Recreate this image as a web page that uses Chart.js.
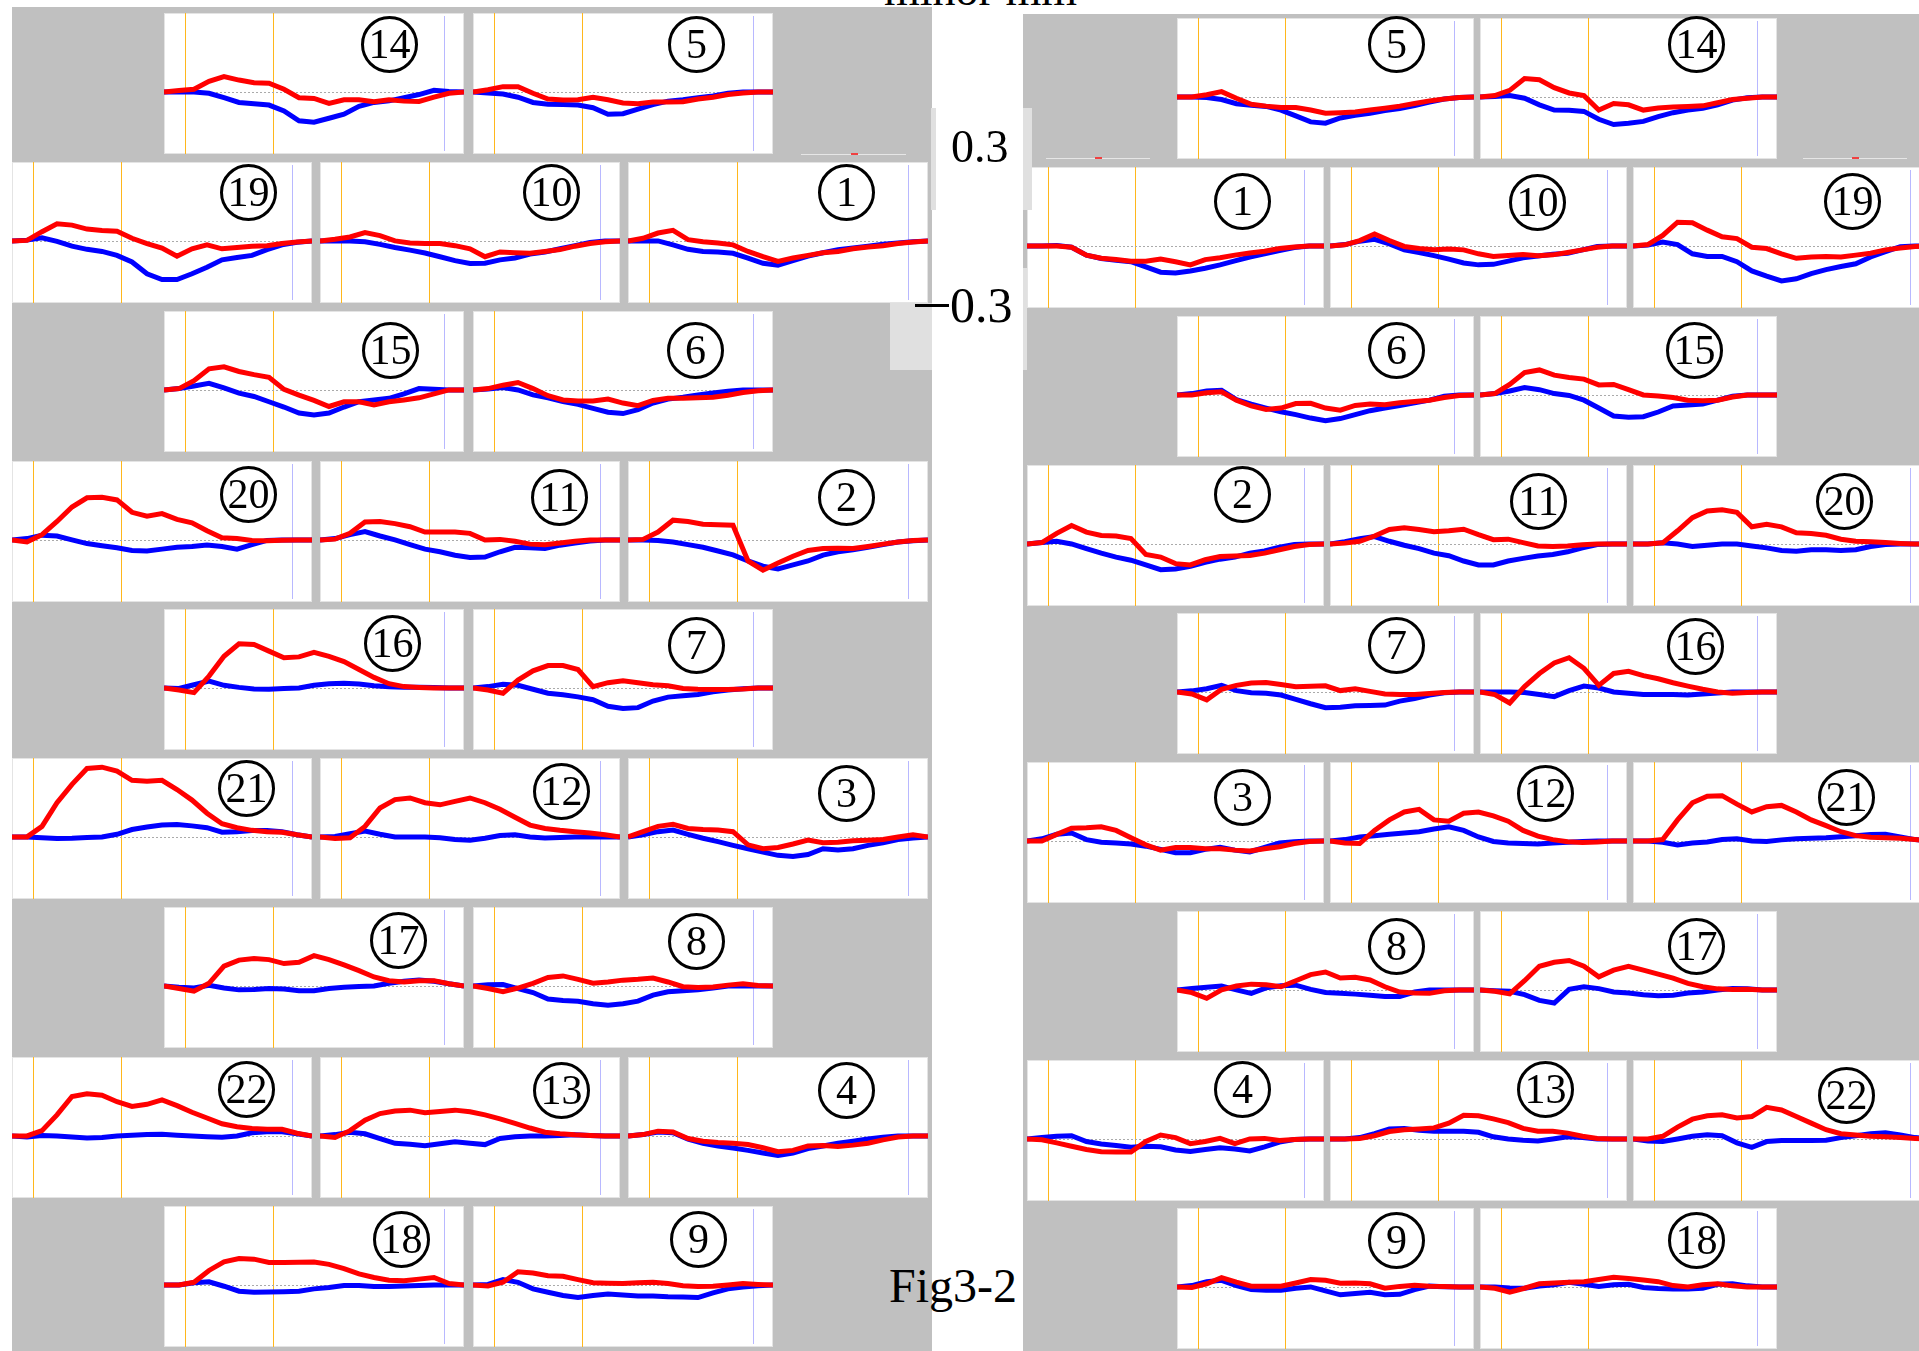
<!DOCTYPE html>
<html>
<head>
<meta charset="utf-8">
<title>Fig3-2</title>
<script src="https://cdn.jsdelivr.net/npm/chart.js@4.4.0/dist/chart.umd.min.js"></script>
<style>
  html, body { margin: 0; padding: 0; background: #fff; }
  #page { position: relative; width: 1919px; height: 1351px; overflow: hidden; font-family: "Liberation Serif", "Times New Roman", serif; }
  .block { position: absolute; background: #c0c0c0; }
  .panel { position: absolute; background: #fff; box-shadow: inset 0 0 0 1px #e4e4e4; }
  .panel canvas { position: absolute; left: 0; top: 0; }
  .num { position: absolute; width: 51px; height: 51px; border: 3px solid #000; border-radius: 50%; font-size: 42px; line-height: 51px; text-align: center; color: #000; }
  .txt { position: absolute; color: #000; white-space: nowrap; line-height: 1; }
  .patch { position: absolute; background: #e0e0e0; }
  .bar { position: absolute; background: #000; }
</style>
</head>
<body>
<div id="page"></div>
<script>
// time grid (% of trial) shared by every trace
const xGrid = [0, 5, 10, 15, 20, 25, 30, 35, 40, 45, 50, 55, 60, 65, 70, 75, 80, 85, 90, 95, 100];
const onsetX = [7.1, 36.4];   // orange markers
const endX = 93.2;            // faint blue marker
const yMin = -0.236, yMax = 0.3;  // mm

// ---- left block (red / blue traces, mm) ----
const l14Red = [0,0.005,0.01,0.04,0.058,0.045,0.035,0.033,0.01,-0.022,-0.025,-0.044,-0.03,-0.03,-0.037,-0.03,-0.035,-0.036,-0.02,-0.005,0];
const l14Blue = [0,0,0,-0.005,-0.022,-0.04,-0.045,-0.05,-0.072,-0.11,-0.115,-0.1,-0.085,-0.055,-0.04,-0.034,-0.022,-0.01,0.006,0.002,0];
const l5Red = [0,0.008,0.02,0.02,-0.005,-0.027,-0.031,-0.03,-0.02,-0.03,-0.042,-0.045,-0.038,-0.038,-0.037,-0.027,-0.02,-0.01,-0.004,0,0];
const l5Blue = [0,-0.004,-0.008,-0.02,-0.04,-0.047,-0.048,-0.05,-0.06,-0.085,-0.083,-0.065,-0.048,-0.035,-0.03,-0.022,-0.015,-0.005,0,0,0];
const l19Red = [0,0.002,0.035,0.065,0.06,0.045,0.04,0.037,0.01,-0.01,-0.027,-0.058,-0.03,-0.015,-0.03,-0.025,-0.02,-0.018,-0.01,-0.004,0];
const l19Blue = [0,0.003,0.012,-0.002,-0.02,-0.032,-0.04,-0.055,-0.08,-0.125,-0.147,-0.147,-0.125,-0.1,-0.072,-0.063,-0.055,-0.033,-0.015,-0.005,0];
const l10Red = [0,0.006,0.015,0.032,0.02,0,-0.008,-0.01,-0.01,-0.018,-0.03,-0.06,-0.042,-0.045,-0.047,-0.04,-0.033,-0.02,-0.01,-0.003,0];
const l10Blue = [0,0,0,-0.003,-0.013,-0.025,-0.035,-0.046,-0.06,-0.075,-0.086,-0.085,-0.072,-0.065,-0.05,-0.042,-0.03,-0.018,-0.006,0,0];
const l1Red = [0,0.01,0.03,0.04,0.005,-0.003,-0.008,-0.015,-0.04,-0.06,-0.078,-0.065,-0.055,-0.045,-0.04,-0.03,-0.023,-0.018,-0.01,-0.004,0];
const l1Blue = [0,0,0,-0.015,-0.032,-0.04,-0.042,-0.047,-0.065,-0.085,-0.092,-0.075,-0.058,-0.045,-0.033,-0.027,-0.02,-0.013,-0.008,-0.003,0];
const l15Red = [0,0.005,0.035,0.08,0.088,0.07,0.058,0.048,0.002,-0.02,-0.04,-0.063,-0.045,-0.045,-0.057,-0.045,-0.038,-0.03,-0.015,0,0];
const l15Blue = [0,0.005,0.015,0.025,0.008,-0.012,-0.025,-0.045,-0.065,-0.088,-0.095,-0.088,-0.065,-0.045,-0.038,-0.032,-0.015,0.005,0.003,0,0];
const l6Red = [0,0.005,0.018,0.028,0.005,-0.022,-0.038,-0.042,-0.042,-0.035,-0.05,-0.06,-0.04,-0.032,-0.032,-0.03,-0.028,-0.02,-0.01,-0.003,0];
const l6Blue = [0,0.003,0.009,0,-0.019,-0.03,-0.044,-0.055,-0.07,-0.085,-0.09,-0.075,-0.05,-0.035,-0.028,-0.019,-0.012,-0.005,0,0,0];
const l20Red = [0,-0.008,0.02,0.07,0.125,0.16,0.162,0.152,0.105,0.09,0.1,0.078,0.065,0.035,0.008,0.005,-0.002,-0.003,-0.001,0,0];
const l20Blue = [0,0.005,0.018,0.015,0,-0.014,-0.022,-0.03,-0.04,-0.042,-0.035,-0.028,-0.025,-0.019,-0.025,-0.035,-0.018,-0.002,0,0,0];
const l11Red = [0,0.003,0.025,0.068,0.07,0.062,0.05,0.03,0.03,0.03,0.025,0,0.002,-0.005,-0.016,-0.018,-0.012,-0.005,0,0,0];
const l11Blue = [0,0.005,0.02,0.032,0.015,0,-0.018,-0.035,-0.045,-0.058,-0.067,-0.065,-0.045,-0.028,-0.03,-0.033,-0.02,-0.012,-0.004,0,0];
const l2Red = [0,0.002,0.03,0.075,0.07,0.06,0.058,0.056,-0.08,-0.115,-0.088,-0.062,-0.04,-0.033,-0.032,-0.033,-0.025,-0.016,-0.008,-0.002,0];
const l2Blue = [0,0,-0.002,-0.008,-0.018,-0.028,-0.042,-0.057,-0.08,-0.1,-0.11,-0.095,-0.08,-0.058,-0.045,-0.037,-0.028,-0.018,-0.008,-0.003,0];
const l16Red = [0,-0.008,-0.018,0.045,0.12,0.168,0.165,0.14,0.115,0.118,0.135,0.12,0.1,0.07,0.04,0.016,0.005,0.002,0,0,0];
const l16Blue = [0,-0.002,0.012,0.026,0.01,0.002,-0.004,-0.005,-0.002,0,0.01,0.016,0.018,0.015,0.008,0.004,0.003,0.003,0.002,0,0];
const l7Red = [0,-0.008,-0.02,0.03,0.065,0.085,0.085,0.07,0.005,0.02,0.027,0.02,0.012,0.008,-0.002,-0.005,-0.006,-0.006,-0.004,0,0];
const l7Blue = [0,0.005,0.014,0.01,-0.005,-0.02,-0.026,-0.034,-0.045,-0.07,-0.078,-0.075,-0.05,-0.035,-0.03,-0.025,-0.015,-0.008,-0.003,0,0];
const l21Red = [0,0,0.04,0.13,0.2,0.26,0.265,0.25,0.215,0.212,0.215,0.18,0.14,0.09,0.05,0.035,0.025,0.02,0.018,0.008,0];
const l21Blue = [0,0,-0.003,-0.006,-0.005,-0.002,0,0.01,0.028,0.038,0.045,0.047,0.042,0.035,0.018,0.02,0.024,0.024,0.02,0.008,0];
const l12Red = [0,-0.006,-0.003,0.04,0.11,0.142,0.148,0.13,0.122,0.135,0.148,0.13,0.105,0.075,0.045,0.032,0.025,0.02,0.015,0.008,0];
const l12Blue = [0,0.002,0.012,0.022,0.01,0,0,0,-0.003,-0.01,-0.013,-0.005,0.005,0.008,0,-0.004,-0.002,0,0,0,0];
const l3Red = [0,0.02,0.04,0.048,0.032,0.028,0.026,0.02,-0.03,-0.045,-0.04,-0.027,-0.012,-0.022,-0.02,-0.015,-0.013,-0.01,0,0.008,0];
const l3Blue = [0,0.008,0.02,0.026,0.01,-0.005,-0.018,-0.032,-0.045,-0.058,-0.07,-0.074,-0.067,-0.045,-0.05,-0.045,-0.032,-0.022,-0.01,-0.004,0];
const l17Red = [0,-0.01,-0.02,0.01,0.075,0.098,0.104,0.1,0.085,0.09,0.115,0.1,0.08,0.058,0.034,0.02,0.015,0.02,0.02,0.008,0];
const l17Blue = [0,-0.005,-0.008,0.002,-0.008,-0.015,-0.014,-0.01,-0.012,-0.018,-0.018,-0.01,-0.005,-0.002,0,0.01,0.018,0.022,0.018,0.008,0];
const l8Red = [0,-0.01,-0.022,-0.008,0.01,0.032,0.038,0.025,0.01,0.015,0.022,0.025,0.03,0.015,-0.003,-0.006,-0.004,0.003,0.008,0.002,0];
const l8Blue = [0,0.004,0.005,-0.01,-0.025,-0.05,-0.055,-0.058,-0.068,-0.073,-0.068,-0.058,-0.035,-0.022,-0.018,-0.015,-0.008,0,0,0,0];
const l22Red = [0,0,0.02,0.08,0.15,0.16,0.155,0.13,0.112,0.12,0.137,0.115,0.09,0.068,0.046,0.035,0.028,0.025,0.025,0.01,0];
const l22Blue = [0,-0.004,0.002,0,-0.004,-0.008,-0.006,0,0.003,0.005,0.006,0.003,0,-0.003,-0.005,0,0.012,0.016,0.016,0.008,0];
const l13Red = [0,-0.006,0.02,0.06,0.085,0.095,0.098,0.088,0.093,0.098,0.092,0.08,0.065,0.048,0.03,0.014,0.008,0.004,0.002,0,0];
const l13Blue = [0,0.005,0.014,0.008,-0.01,-0.028,-0.032,-0.037,-0.03,-0.022,-0.028,-0.033,-0.01,-0.003,0,0,0.002,0.004,0.002,0,0];
const l4Red = [0,0.005,0.018,0.015,-0.01,-0.02,-0.025,-0.028,-0.033,-0.045,-0.06,-0.055,-0.038,-0.036,-0.04,-0.035,-0.028,-0.015,-0.004,0,0];
const l4Blue = [0,0.005,0.015,0.012,-0.012,-0.028,-0.038,-0.046,-0.055,-0.065,-0.074,-0.065,-0.048,-0.038,-0.028,-0.02,-0.012,-0.005,0,0,0];
const l18Red = [0,0,0.01,0.055,0.088,0.1,0.098,0.085,0.085,0.086,0.087,0.078,0.062,0.042,0.028,0.018,0.016,0.022,0.028,0.005,0];
const l18Blue = [0,0,0.008,0.012,-0.005,-0.024,-0.028,-0.027,-0.026,-0.024,-0.015,-0.01,-0.002,-0.002,-0.006,-0.006,-0.004,-0.002,0,0,0];
const l9Red = [0,-0.004,0.01,0.05,0.045,0.035,0.033,0.02,0.008,0.006,0.005,0.008,0.01,0.005,-0.003,-0.006,-0.005,0,0.005,0.002,0];
const l9Blue = [0,0.002,0.02,0.01,-0.015,-0.028,-0.04,-0.048,-0.04,-0.035,-0.038,-0.042,-0.042,-0.045,-0.046,-0.048,-0.03,-0.015,-0.008,-0.003,0];

// ---- right block ----
const r5Red = [0,0,0.008,0.02,-0.005,-0.028,-0.035,-0.04,-0.04,-0.05,-0.062,-0.06,-0.057,-0.05,-0.043,-0.035,-0.025,-0.015,-0.008,-0.002,0];
const r5Blue = [0,0,-0.002,-0.01,-0.026,-0.032,-0.036,-0.05,-0.072,-0.095,-0.1,-0.08,-0.07,-0.062,-0.052,-0.044,-0.033,-0.02,-0.008,-0.002,0];
const r14Red = [0,0.005,0.025,0.07,0.065,0.035,0.015,0.005,-0.05,-0.025,-0.03,-0.05,-0.042,-0.038,-0.036,-0.034,-0.022,-0.01,-0.005,0,0];
const r14Blue = [0,0.002,0.005,-0.005,-0.03,-0.05,-0.051,-0.055,-0.085,-0.105,-0.1,-0.093,-0.075,-0.06,-0.05,-0.043,-0.03,-0.012,-0.003,0,0];
const r1Red = [0,0,0,-0.005,-0.035,-0.047,-0.052,-0.058,-0.058,-0.05,-0.06,-0.072,-0.052,-0.045,-0.035,-0.027,-0.02,-0.01,-0.004,0,0];
const r1Blue = [0,0,0.002,-0.005,-0.035,-0.048,-0.055,-0.06,-0.08,-0.1,-0.103,-0.095,-0.085,-0.072,-0.057,-0.042,-0.03,-0.018,-0.006,0,0];
const r10Red = [0,0.004,0.02,0.045,0.02,-0.002,-0.01,-0.015,-0.012,-0.015,-0.03,-0.04,-0.036,-0.033,-0.037,-0.034,-0.025,-0.015,-0.005,0,0];
const r10Blue = [0,0.005,0.018,0.025,0.008,-0.015,-0.025,-0.037,-0.05,-0.065,-0.072,-0.07,-0.058,-0.045,-0.038,-0.032,-0.028,-0.015,-0.002,0,0];
const r19Red = [0,0.005,0.04,0.09,0.088,0.06,0.035,0.028,-0.005,-0.01,-0.03,-0.047,-0.042,-0.04,-0.042,-0.035,-0.028,-0.015,-0.008,-0.002,0];
const r19Blue = [0,0.003,0.015,0.005,-0.03,-0.04,-0.04,-0.06,-0.095,-0.115,-0.133,-0.125,-0.105,-0.09,-0.078,-0.068,-0.042,-0.022,-0.003,0,0];
const r6Red = [0,0,0.008,0.012,-0.02,-0.042,-0.055,-0.05,-0.033,-0.032,-0.05,-0.058,-0.04,-0.035,-0.037,-0.03,-0.025,-0.02,-0.01,-0.002,0];
const r6Blue = [0,0.005,0.015,0.018,-0.018,-0.035,-0.05,-0.064,-0.075,-0.088,-0.098,-0.09,-0.075,-0.06,-0.05,-0.04,-0.03,-0.02,-0.005,0,0];
const r15Red = [0,0.005,0.04,0.085,0.095,0.075,0.066,0.06,0.038,0.04,0.02,0,-0.004,-0.01,-0.02,-0.022,-0.02,-0.008,0,0,0];
const r15Blue = [0,0.005,0.015,0.028,0.02,0.005,-0.002,-0.02,-0.05,-0.08,-0.085,-0.083,-0.065,-0.042,-0.038,-0.035,-0.02,-0.005,0,0,0];
const r2Red = [0,0.005,0.04,0.07,0.045,0.032,0.03,0.02,-0.04,-0.05,-0.075,-0.08,-0.06,-0.048,-0.046,-0.044,-0.035,-0.022,-0.01,-0.002,0];
const r2Blue = [0,0.005,0.01,0,-0.018,-0.035,-0.05,-0.062,-0.08,-0.098,-0.095,-0.085,-0.07,-0.058,-0.05,-0.035,-0.027,-0.012,-0.002,0,0];
const r11Red = [0,0.003,0.01,0.03,0.055,0.061,0.055,0.046,0.05,0.056,0.035,0.016,0.018,0.005,-0.008,-0.01,-0.008,-0.003,0,0,0];
const r11Blue = [0,0.008,0.02,0.028,0.01,-0.005,-0.018,-0.035,-0.045,-0.065,-0.08,-0.08,-0.065,-0.055,-0.046,-0.04,-0.03,-0.015,-0.002,0,0];
const r20Red = [0,0,0.004,0.05,0.1,0.125,0.13,0.12,0.065,0.075,0.065,0.042,0.04,0.033,0.018,0.01,0.008,0.005,0.002,0,0];
const r20Blue = [0,0,0.004,0,-0.01,-0.005,0,0,-0.008,-0.015,-0.025,-0.028,-0.022,-0.022,-0.025,-0.022,-0.01,-0.002,0,0,0];
const r7Red = [0,-0.008,-0.03,0.01,0.025,0.034,0.036,0.028,0.02,0.022,0.023,0.005,0.012,0.002,-0.008,-0.01,-0.01,-0.006,-0.002,0,0];
const r7Blue = [0,0.004,0.012,0.025,0.005,-0.003,-0.005,-0.012,-0.028,-0.045,-0.06,-0.058,-0.053,-0.052,-0.05,-0.035,-0.025,-0.012,-0.003,0,0];
const r16Red = [0,-0.01,-0.042,0.02,0.07,0.11,0.13,0.09,0.025,0.07,0.078,0.062,0.05,0.035,0.022,0.01,0,-0.005,-0.002,0,0];
const r16Blue = [0,0,0,-0.002,-0.01,-0.018,0.005,0.022,0.015,0,-0.005,-0.01,-0.01,-0.01,-0.012,-0.008,-0.004,0,0,0,0];
const r3Red = [0,0,0.025,0.048,0.05,0.054,0.04,0.012,-0.015,-0.035,-0.025,-0.025,-0.03,-0.03,-0.035,-0.038,-0.03,-0.022,-0.01,-0.002,0];
const r3Blue = [0,0.008,0.025,0.03,0.005,-0.005,-0.008,-0.012,-0.02,-0.032,-0.045,-0.045,-0.032,-0.024,-0.035,-0.042,-0.025,-0.008,-0.003,0,0];
const r12Red = [0,-0.008,-0.01,0.04,0.08,0.11,0.12,0.08,0.075,0.105,0.11,0.095,0.075,0.04,0.018,0.005,-0.003,-0.006,-0.004,0,0];
const r12Blue = [0,0.005,0.015,0.02,0.025,0.03,0.035,0.045,0.054,0.04,0.015,-0.002,-0.008,-0.01,-0.012,-0.008,-0.005,-0.002,0,0,0];
const r21Red = [0,0,0.005,0.08,0.145,0.17,0.172,0.14,0.11,0.13,0.135,0.11,0.08,0.058,0.035,0.02,0.014,0.012,0.01,0.005,0];
const r21Blue = [0,0,-0.005,-0.015,-0.008,-0.004,0.005,0.008,0,-0.002,0.004,0.008,0.01,0.012,0.016,0.02,0.024,0.025,0.015,0.005,0];
const r8Red = [0,-0.01,-0.032,0,0.015,0.022,0.02,0.012,0.035,0.058,0.068,0.045,0.048,0.038,0.012,-0.008,-0.012,-0.013,-0.003,0,0];
const r8Blue = [0,0.005,0.01,0.015,0,-0.013,0.008,0.016,0.018,0.002,-0.01,-0.013,-0.016,-0.02,-0.025,-0.025,-0.008,0,0,0,0];
const r17Red = [0,-0.005,-0.015,0.035,0.09,0.105,0.112,0.09,0.05,0.075,0.09,0.075,0.06,0.045,0.025,0.012,0.004,0.002,0.003,0,0];
const r17Blue = [0,-0.003,-0.005,-0.018,-0.04,-0.05,0.002,0.012,0.005,-0.008,-0.012,-0.018,-0.022,-0.02,-0.012,-0.008,0,0.005,0.004,0,0];
const r4Red = [0,-0.003,-0.015,-0.028,-0.04,-0.049,-0.05,-0.05,-0.01,0.015,0.005,-0.018,-0.01,0.002,-0.018,0,0.002,-0.006,-0.002,0,0];
const r4Blue = [0,0.005,0.01,0.012,-0.01,-0.019,-0.025,-0.032,-0.028,-0.03,-0.042,-0.048,-0.04,-0.034,-0.038,-0.046,-0.03,-0.012,-0.002,0,0];
const r13Red = [0,0,0.002,0.012,0.028,0.035,0.038,0.042,0.06,0.09,0.088,0.076,0.062,0.04,0.029,0.029,0.022,0.01,0.002,0,0];
const r13Blue = [0,0,0.005,0.02,0.038,0.04,0.033,0.029,0.029,0.029,0.025,0.008,0,-0.005,-0.008,0,0.008,0.005,0,0,0];
const r22Red = [0,0,0.01,0.045,0.075,0.088,0.092,0.08,0.085,0.12,0.11,0.085,0.06,0.035,0.02,0.015,0.01,0.008,0.005,0.002,0];
const r22Blue = [0,-0.008,-0.01,0,0.01,0.016,0.012,-0.015,-0.032,-0.01,-0.006,-0.006,-0.006,-0.005,0.005,0.012,0.02,0.023,0.015,0.005,0];
const r9Red = [0,-0.002,0.012,0.035,0.018,0.003,0.003,0.003,0.015,0.028,0.025,0.014,0.015,0.012,-0.005,0.002,0.006,0.003,0.002,0,0];
const r9Blue = [0,0.005,0.02,0.025,0.005,-0.01,-0.013,-0.013,-0.005,0,-0.015,-0.03,-0.025,-0.02,-0.03,-0.028,-0.01,0.003,0.001,0,0];
const r18Red = [0,-0.005,-0.02,-0.005,0.012,0.015,0.018,0.02,0.028,0.037,0.032,0.026,0.02,0.005,0,0.008,0.012,0.004,0,0,0];
const r18Blue = [0,0,-0.004,-0.005,0.003,0.008,0.018,0.01,0.002,0.008,0.01,-0.002,-0.006,-0.008,-0.008,-0.005,0.01,0.012,0.004,0,0];

// panel numbers, row by row
const leftRows = [[14,5],[19,10,1],[15,6],[20,11,2],[16,7],[21,12,3],[17,8],[22,13,4],[18,9]];
const rightRows = [[5,14],[1,10,19],[6,15],[2,11,20],[7,16],[3,12,21],[8,17],[4,13,22],[9,18]];

const traces = {
    L14: [l14Red, l14Blue], L5: [l5Red, l5Blue], L19: [l19Red, l19Blue], L10: [l10Red, l10Blue], L1: [l1Red, l1Blue],
    L15: [l15Red, l15Blue], L6: [l6Red, l6Blue], L20: [l20Red, l20Blue], L11: [l11Red, l11Blue], L2: [l2Red, l2Blue],
    L16: [l16Red, l16Blue], L7: [l7Red, l7Blue], L21: [l21Red, l21Blue], L12: [l12Red, l12Blue], L3: [l3Red, l3Blue],
    L17: [l17Red, l17Blue], L8: [l8Red, l8Blue], L22: [l22Red, l22Blue], L13: [l13Red, l13Blue], L4: [l4Red, l4Blue],
    L18: [l18Red, l18Blue], L9: [l9Red, l9Blue],
    R5: [r5Red, r5Blue], R14: [r14Red, r14Blue], R1: [r1Red, r1Blue], R10: [r10Red, r10Blue], R19: [r19Red, r19Blue],
    R6: [r6Red, r6Blue], R15: [r15Red, r15Blue], R2: [r2Red, r2Blue], R11: [r11Red, r11Blue], R20: [r20Red, r20Blue],
    R7: [r7Red, r7Blue], R16: [r16Red, r16Blue], R3: [r3Red, r3Blue], R12: [r12Red, r12Blue], R21: [r21Red, r21Blue],
    R8: [r8Red, r8Blue], R17: [r17Red, r17Blue], R4: [r4Red, r4Blue], R13: [r13Red, r13Blue], R22: [r22Red, r22Blue],
    R9: [r9Red, r9Blue], R18: [r18Red, r18Blue]
};

// ---- layout (px) ----
const sides = {
    L: { rows: leftRows, tops: [13,162,311,461,609,758,907,1057,1206], x3: [12,320,628], x2: [164,473], w: 300 },
    R: { rows: rightRows, tops: [18,167,316,465,613,762,911,1060,1208], x3: [1027,1330,1633], x2: [1177,1480], w: 297 }
};
const panelH = 141;
// circled-number centre inside each panel
const labelPos = {
    L14: [225,31], L5: [223,31], L19: [236,30], L10: [231,30], L1: [218,30],
    L15: [226,39], L6: [222,39], L20: [236,33], L11: [239,36], L2: [218,36],
    L16: [228,34], L7: [223,36], L21: [234,30], L12: [241,33], L3: [218,35],
    L17: [234,33], L8: [223,34], L22: [234,32], L13: [241,33], L4: [218,33],
    L18: [237,33], L9: [225,33],
    R5: [219,26], R14: [216,26], R1: [215,34], R10: [207,35], R19: [219,34],
    R6: [219,34], R15: [214,34], R2: [215,29], R11: [208,36], R20: [211,36],
    R7: [219,32], R16: [215,33], R3: [215,35], R12: [215,31], R21: [213,35],
    R8: [219,35], R17: [216,35], R4: [215,29], R13: [215,29], R22: [213,35],
    R9: [219,32], R18: [216,32]
};

const page = document.querySelector('#page');

function addDiv(cls, x, y, w, h, parent) {
    const d = document.createElement('div');
    d.className = cls;
    d.style.left = x + 'px';
    d.style.top = y + 'px';
    if (w != null) d.style.width = w + 'px';
    if (h != null) d.style.height = h + 'px';
    (parent || page).appendChild(d);
    return d;
}

// grey backgrounds
addDiv('block', 12, 7, 920, 1344);
addDiv('block', 1023, 14, 896, 1337);

const guides = {
    id: 'guides',
    beforeDatasetsDraw(chart) {
        const { ctx, chartArea, scales: { x, y } } = chart;
        ctx.save();
        ctx.lineWidth = 1;
        ctx.strokeStyle = '#ffb71c';
        onsetX.forEach(v => {
            const px = Math.round(x.getPixelForValue(v)) + 0.5;
            ctx.beginPath(); ctx.moveTo(px, chartArea.top); ctx.lineTo(px, chartArea.bottom); ctx.stroke();
        });
        ctx.strokeStyle = '#b8b8ff';
        const ex = Math.round(x.getPixelForValue(endX)) + 0.5;
        ctx.beginPath(); ctx.moveTo(ex, chartArea.top + 3); ctx.lineTo(ex, chartArea.bottom - 3); ctx.stroke();
        ctx.strokeStyle = '#aaaaaa';
        ctx.setLineDash([2, 2]);
        const y0 = Math.round(y.getPixelForValue(0)) + 0.5;
        ctx.beginPath(); ctx.moveTo(chartArea.left, y0); ctx.lineTo(chartArea.right, y0); ctx.stroke();
        ctx.restore();
    }
};

function toPoints(arr) {
    return xGrid.map((x, i) => ({ x: x, y: arr[i] }));
}

Object.keys(sides).forEach(side => {
    const s = sides[side];
    s.rows.forEach((row, r) => {
        const xs = row.length == 3 ? s.x3 : s.x2;
        row.forEach((num, c) => {
            const key = side + num;
            const panel = addDiv('panel', xs[c], s.tops[r], s.w, panelH);
            const canvas = document.createElement('canvas');
            canvas.width = s.w;
            canvas.height = panelH;
            panel.appendChild(canvas);
            const [red, blue] = traces[key];
            new Chart(canvas, {
                type: 'line',
                data: {
                    datasets: [
                        { data: toPoints(red), borderColor: '#ff0000', borderWidth: 5, pointRadius: 0, tension: 0, borderJoinStyle: 'miter' },
                        { data: toPoints(blue), borderColor: '#0000ff', borderWidth: 5, pointRadius: 0, tension: 0, borderJoinStyle: 'miter' }
                    ]
                },
                options: {
                    responsive: false,
                    animation: false,
                    events: [],
                    layout: { padding: 0 },
                    scales: {
                        x: { type: 'linear', min: 0, max: 100, display: false },
                        y: { min: yMin, max: yMax, display: false }
                    },
                    plugins: { legend: { display: false }, tooltip: { enabled: false } }
                },
                plugins: [guides]
            });
            const [lx, ly] = labelPos[key];
            const lab = addDiv('num', lx - 28, ly - 28, null, null, panel);
            lab.textContent = num;
        });
    });
});

// light patches around the scale labels
addDiv('patch', 890, 303, 42, 67);
addDiv('patch', 931, 108, 5, 102);
addDiv('patch', 1023, 108, 9, 102);
addDiv('patch', 1023, 268, 4, 102);

// remnants of hidden baselines in the top grey row
[[801, 154, 105, 851], [1046, 158, 104, 1095], [1803, 158, 104, 1852]].forEach(([x, y, w, m]) => {
    const l = addDiv('', x, y, w, 1);
    l.style.position = 'absolute';
    l.style.background = '#e6e6e6';
    const d = addDiv('', m, y - 1, 7, 2);
    d.style.position = 'absolute';
    d.style.background = '#f04040';
});

// texts
function addText(str, x, baseline, size) {
    const t = addDiv('txt', x, baseline - Math.round(size * 0.891), null, null);
    t.style.fontSize = size + 'px';
    t.textContent = str;
    return t;
}
addText('minor mm', 884, 8, 46);
addText('0.3', 951, 165, 46);
addDiv('bar', 915, 304, 34, 3);
addText('0.3', 950, 325, 50);
addText('Fig3-2', 889, 1305, 48);
</script>
</body>
</html>
